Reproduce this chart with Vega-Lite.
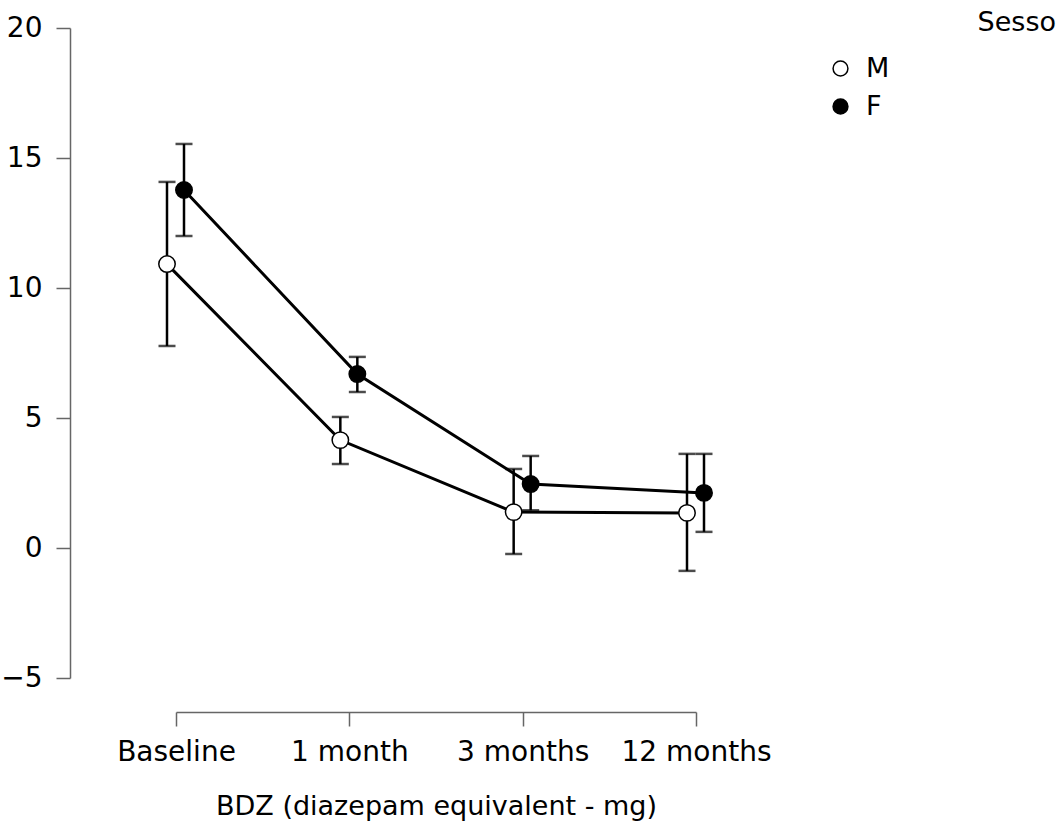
{
  "$schema": "https://vega.github.io/schema/vega-lite/v6.json",
  "width": 520,
  "height": 650,
  "autosize": {"type": "none"},
  "padding": {"left": 176, "top": 28, "right": 367, "bottom": 153},
  "background": "white",
  "config": {
    "view": {"stroke": null},
    "font": "DejaVu Sans"
  },
  "title": {
    "text": "Sesso",
    "anchor": "end",
    "frame": "group",
    "orient": "top",
    "dx": 360,
    "dy": 23,
    "offset": 0,
    "fontSize": 27,
    "fontWeight": "normal",
    "font": "DejaVu Sans",
    "color": "black"
  },
  "data": {
    "values": [
      {"time": "Baseline", "t": 0, "sex": "M", "mean": 10.92, "lo": 7.77, "hi": 14.08},
      {"time": "1 month", "t": 1, "sex": "M", "mean": 4.15, "lo": 3.23, "hi": 5.04},
      {"time": "3 months", "t": 2, "sex": "M", "mean": 1.38, "lo": -0.23, "hi": 3.04},
      {"time": "12 months", "t": 3, "sex": "M", "mean": 1.35, "lo": -0.88, "hi": 3.62},
      {"time": "Baseline", "t": 0, "sex": "F", "mean": 13.77, "lo": 12.0, "hi": 15.54},
      {"time": "1 month", "t": 1, "sex": "F", "mean": 6.69, "lo": 6.0, "hi": 7.35},
      {"time": "3 months", "t": 2, "sex": "F", "mean": 2.46, "lo": 1.45, "hi": 3.54},
      {"time": "12 months", "t": 3, "sex": "F", "mean": 2.12, "lo": 0.62, "hi": 3.62}
    ]
  },
  "encoding": {
    "x": {
      "field": "time",
      "type": "ordinal",
      "scale": {"type": "point", "domain": ["Baseline", "1 month", "3 months", "12 months"], "padding": 0},
      "axis": {
        "title": "BDZ (diazepam equivalent - mg)",
        "labelAngle": 0,
        "offset": 34,
        "domainColor": "#666",
        "domainWidth": 1.5,
        "tickColor": "#666",
        "tickWidth": 1.5,
        "tickSize": 14,
        "labelFontSize": 28,
        "labelColor": "black",
        "labelPadding": 12,
        "titleFontSize": 27,
        "titleFontWeight": "normal",
        "titleColor": "black",
        "titlePadding": 27,
        "grid": false
      }
    },
    "xOffset": {
      "field": "sex",
      "type": "nominal",
      "scale": {"domain": ["M", "F"], "range": [-17.5, 16.5]}
    }
  },
  "layer": [
    {
      "mark": {"type": "rule", "color": "black", "strokeWidth": 2.5},
      "encoding": {
        "y": {
          "field": "lo",
          "type": "quantitative",
          "scale": {"domain": [-5, 20], "nice": false, "zero": false},
          "axis": {
            "title": null,
            "values": [-5, 0, 5, 10, 15, 20],
            "offset": 106,
            "domainColor": "#666",
            "domainWidth": 1.5,
            "tickColor": "#666",
            "tickWidth": 1.5,
            "tickSize": 14,
            "labelFontSize": 28,
            "labelColor": "black",
            "labelPadding": 14,
            "grid": false
          }
        },
        "y2": {"field": "hi"}
      }
    },
    {
      "mark": {"type": "tick", "color": "black", "thickness": 2.5, "size": 17, "orient": "horizontal"},
      "encoding": {"y": {"field": "lo", "type": "quantitative"}}
    },
    {
      "mark": {"type": "tick", "color": "black", "thickness": 2.5, "size": 17, "orient": "horizontal"},
      "encoding": {"y": {"field": "hi", "type": "quantitative"}}
    },
    {
      "mark": {"type": "line", "color": "black", "strokeWidth": 3},
      "encoding": {
        "y": {"field": "mean", "type": "quantitative"},
        "detail": {"field": "sex", "type": "nominal"},
        "order": {"field": "t", "type": "quantitative"}
      }
    },
    {
      "mark": {"type": "point", "shape": "circle", "filled": true, "stroke": "black", "strokeWidth": 1.5, "size": 270, "opacity": 1},
      "encoding": {
        "y": {"field": "mean", "type": "quantitative"},
        "fill": {
          "field": "sex",
          "type": "nominal",
          "scale": {"domain": ["M", "F"], "range": ["white", "black"]},
          "legend": {
            "title": null,
            "orient": "none",
            "legendX": 651,
            "legendY": 27,
            "padding": 0,
            "symbolType": "circle",
            "symbolSize": 220,
            "symbolStrokeColor": "black",
            "symbolStrokeWidth": 1.5,
            "symbolOpacity": 1,
            "labelFontSize": 27,
            "labelColor": "black",
            "labelOffset": 12,
            "rowPadding": 10
          }
        }
      }
    }
  ]
}
